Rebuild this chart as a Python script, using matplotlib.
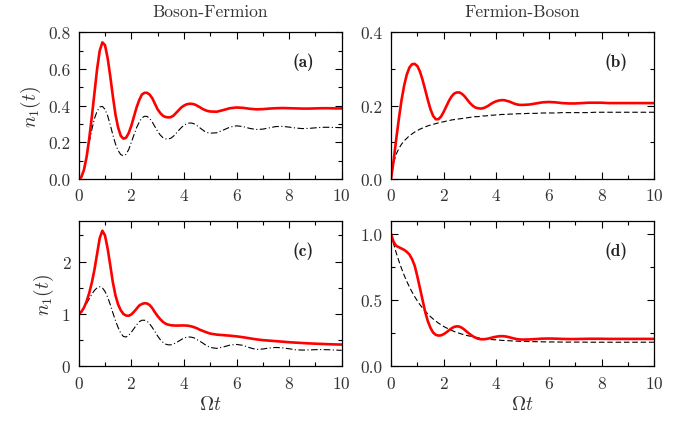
import numpy as np
import matplotlib
matplotlib.use("Agg")
import matplotlib.pyplot as plt
from matplotlib.ticker import MultipleLocator, FormatStrFormatter

plt.rcParams['font.family'] = ['cmr10', 'DejaVu Serif']
plt.rcParams['mathtext.fontset'] = 'cm'
plt.rcParams['axes.formatter.use_mathtext'] = True

# time grid (Omega t)
t = [0.0, 0.1, 0.2, 0.3, 0.4, 0.5, 0.6, 0.7, 0.8, 0.9,
     1.0, 1.1, 1.2, 1.3, 1.4, 1.5, 1.6, 1.7, 1.8, 1.9,
     2.0, 2.1, 2.2, 2.3, 2.4, 2.5, 2.6, 2.7, 2.8, 2.9,
     3.0, 3.1, 3.2, 3.3, 3.4, 3.5, 3.6, 3.7, 3.8, 3.9,
     4.0, 4.1, 4.2, 4.3, 4.4, 4.5, 4.6, 4.7, 4.8, 4.9,
     5.0, 5.25, 5.5, 5.75, 6.0, 6.25, 6.5, 6.75, 7.0, 7.25,
     7.5, 7.75, 8.0, 8.25, 8.5, 8.75, 9.0, 9.25, 9.5, 9.75, 10.0]

# (a) Boson-Fermion
a_red = [0.0, 0.01, 0.05, 0.12, 0.22, 0.34, 0.47, 0.60, 0.70, 0.745,
         0.73, 0.66, 0.56, 0.45, 0.35, 0.28, 0.235, 0.22, 0.225, 0.25,
         0.29, 0.34, 0.39, 0.43, 0.46, 0.47, 0.47, 0.46, 0.44, 0.41,
         0.38, 0.36, 0.345, 0.338, 0.336, 0.337, 0.345, 0.36, 0.375, 0.39,
         0.40, 0.407, 0.41, 0.41, 0.407, 0.40, 0.392, 0.383, 0.376, 0.371,
         0.368, 0.367, 0.376, 0.386, 0.39, 0.388, 0.383, 0.38, 0.381, 0.384,
         0.386, 0.387, 0.386, 0.385, 0.384, 0.384, 0.385, 0.386, 0.386, 0.385, 0.385]
a_black = [0.0, 0.01, 0.05, 0.12, 0.20, 0.27, 0.33, 0.37, 0.393, 0.396,
           0.38, 0.345, 0.295, 0.24, 0.19, 0.155, 0.133, 0.127, 0.135, 0.16,
           0.20, 0.24, 0.28, 0.31, 0.333, 0.342, 0.341, 0.33, 0.31, 0.285,
           0.26, 0.24, 0.226, 0.219, 0.218, 0.222, 0.233, 0.248, 0.265, 0.28,
           0.293, 0.301, 0.305, 0.305, 0.30, 0.291, 0.28, 0.269, 0.259, 0.253,
           0.25, 0.252, 0.267, 0.283, 0.29, 0.286, 0.276, 0.27, 0.272, 0.279,
           0.286, 0.287, 0.283, 0.278, 0.275, 0.276, 0.279, 0.282, 0.282, 0.281, 0.28]

# (b) Fermion-Boson
b_red = [0.0, 0.05, 0.11, 0.165, 0.215, 0.255, 0.285, 0.304, 0.313, 0.314,
         0.308, 0.293, 0.27, 0.243, 0.215, 0.19, 0.172, 0.163, 0.163, 0.17,
         0.183, 0.198, 0.213, 0.225, 0.233, 0.236, 0.236, 0.232, 0.225, 0.216,
         0.207, 0.20, 0.195, 0.193, 0.192, 0.193, 0.196, 0.20, 0.205, 0.209,
         0.212, 0.214, 0.215, 0.215, 0.213, 0.211, 0.208, 0.205, 0.203, 0.202,
         0.202, 0.203, 0.206, 0.209, 0.21, 0.209, 0.207, 0.206, 0.206, 0.207,
         0.208, 0.208, 0.208, 0.207, 0.207, 0.207, 0.207, 0.207, 0.207, 0.207, 0.207]
b_black = [0.0, 0.045, 0.068, 0.083, 0.095, 0.104, 0.111, 0.118, 0.123, 0.128,
           0.132, 0.136, 0.139, 0.142, 0.145, 0.147, 0.149, 0.151, 0.153, 0.155,
           0.156, 0.158, 0.159, 0.161, 0.162, 0.163, 0.164, 0.165, 0.166, 0.167,
           0.168, 0.169, 0.17, 0.17, 0.171, 0.172, 0.172, 0.173, 0.174, 0.174,
           0.175, 0.175, 0.176, 0.176, 0.176, 0.177, 0.177, 0.177, 0.178, 0.178,
           0.178, 0.179, 0.179, 0.18, 0.18, 0.18, 0.181, 0.181, 0.181, 0.181,
           0.181, 0.182, 0.182, 0.182, 0.182, 0.182, 0.182, 0.182, 0.182, 0.182, 0.182]

# (c) Boson-Fermion
c_red = [1.0, 1.04, 1.12, 1.24, 1.40, 1.60, 1.85, 2.15, 2.45, 2.59,
         2.50, 2.25, 1.93, 1.60, 1.35, 1.18, 1.07, 1.00, 0.97, 0.965,
         0.99, 1.04, 1.10, 1.16, 1.19, 1.205, 1.20, 1.17, 1.11, 1.03,
         0.96, 0.90, 0.85, 0.815, 0.795, 0.785, 0.78, 0.778, 0.778, 0.78,
         0.78, 0.778, 0.772, 0.76, 0.745, 0.725, 0.70, 0.68, 0.66, 0.642,
         0.625, 0.605, 0.595, 0.585, 0.572, 0.555, 0.535, 0.515, 0.50, 0.49,
         0.48, 0.47, 0.46, 0.452, 0.445, 0.438, 0.432, 0.427, 0.422, 0.418, 0.415]
c_black = [1.0, 1.05, 1.12, 1.20, 1.29, 1.38, 1.45, 1.50, 1.52, 1.50,
           1.43, 1.32, 1.18, 1.02, 0.87, 0.74, 0.63, 0.57, 0.56, 0.59,
           0.65, 0.72, 0.79, 0.85, 0.88, 0.88, 0.86, 0.81, 0.74, 0.66,
           0.58, 0.51, 0.46, 0.425, 0.41, 0.41, 0.425, 0.45, 0.48, 0.51,
           0.54, 0.555, 0.56, 0.555, 0.54, 0.51, 0.48, 0.45, 0.415, 0.385,
           0.36, 0.342, 0.37, 0.405, 0.418, 0.40, 0.355, 0.322, 0.33, 0.35,
           0.36, 0.352, 0.335, 0.315, 0.31, 0.312, 0.318, 0.32, 0.316, 0.31, 0.305]

# (d) Fermion-Boson
d_red = [1.0, 0.94, 0.91, 0.90, 0.89, 0.88, 0.865, 0.845, 0.81, 0.76,
         0.68, 0.59, 0.50, 0.41, 0.34, 0.29, 0.255, 0.238, 0.232, 0.234,
         0.243, 0.256, 0.272, 0.287, 0.298, 0.302, 0.30, 0.29, 0.275, 0.258,
         0.242, 0.228, 0.217, 0.209, 0.205, 0.204, 0.206, 0.21, 0.215, 0.22,
         0.224, 0.227, 0.228, 0.227, 0.224, 0.219, 0.214, 0.209, 0.205, 0.203,
         0.202, 0.203, 0.206, 0.209, 0.21, 0.209, 0.207, 0.206, 0.206, 0.207,
         0.208, 0.208, 0.208, 0.207, 0.207, 0.207, 0.207, 0.207, 0.207, 0.207, 0.207]
d_black = [1.0, 0.925, 0.857, 0.795, 0.739, 0.688, 0.642, 0.599, 0.561, 0.526,
           0.495, 0.466, 0.44, 0.417, 0.395, 0.375, 0.358, 0.342, 0.327, 0.314,
           0.301, 0.291, 0.281, 0.272, 0.263, 0.256, 0.249, 0.243, 0.237, 0.232,
           0.228, 0.224, 0.22, 0.216, 0.213, 0.21, 0.208, 0.205, 0.203, 0.201,
           0.20, 0.198, 0.196, 0.195, 0.194, 0.193, 0.192, 0.191, 0.19, 0.189,
           0.189, 0.187, 0.186, 0.185, 0.184, 0.184, 0.183, 0.183, 0.183, 0.183,
           0.182, 0.182, 0.182, 0.182, 0.182, 0.182, 0.182, 0.182, 0.182, 0.182, 0.182]

titles = ["Boson-Fermion", "Fermion-Boson"]
panel_labels = ["(a)", "(b)", "(c)", "(d)"]

W, H = 690, 427
fig = plt.figure(figsize=(W / 100, H / 100), dpi=100)

def px_axes(l, top, r, bot):
    return fig.add_axes([l / W, (H - bot) / H, (r - l) / W, (bot - top) / H])

axa = px_axes(78.7, 33.3, 341.7, 180.0)
axb = px_axes(391.0, 33.3, 654.3, 180.0)
axc = px_axes(78.7, 222.3, 341.7, 367.3)
axd = px_axes(391.0, 222.3, 654.3, 367.3)

TXT = '#333333'
RED = '#ff0000'
specs = [
    (axa, a_red, a_black, (6, 2.2, 1, 2.2), (0, 0.8), 0.2, 0.1, '%.1f'),
    (axb, b_red, b_black, (5, 2.5), (0, 0.4), 0.2, 0.1, '%.1f'),
    (axc, c_red, c_black, (6, 2.2, 1, 2.2), (0, 2.77), 1, 0.5, '%d'),
    (axd, d_red, d_black, (5, 2.5), (0, 1.096), 0.5, 0.25, '%.1f'),
]
for i, (ax, red, blk, dash, ylim, maj, mnr, fmt) in enumerate(specs):
    ax.plot(t, blk, color='black', lw=0.8, dashes=dash)
    ax.plot(t, red, color=RED, lw=1.9)
    ax.set_xlim(0, 10)
    ax.set_ylim(*ylim)
    ax.xaxis.set_major_locator(MultipleLocator(2))
    ax.xaxis.set_minor_locator(MultipleLocator(1))
    ax.yaxis.set_major_locator(MultipleLocator(maj))
    ax.yaxis.set_minor_locator(MultipleLocator(mnr))
    ax.yaxis.set_major_formatter(FormatStrFormatter(fmt))
    ax.tick_params(which='both', direction='in', top=True, right=True,
                   labelsize=12.5, labelcolor=TXT, width=0.8)
    ax.tick_params(which='major', length=5, pad=6)
    ax.tick_params(which='minor', length=3)
    for s in ax.spines.values():
        s.set_linewidth(0.9)
    ax.text(0.855, 0.80, panel_labels[i], transform=ax.transAxes,
            ha='center', va='center', fontsize=12.5, family='cmb10', color='#222222')

for ax in (axa, axc):
    ax.set_ylabel(r'$n_1(t)$', fontsize=14, color=TXT, labelpad=4)
for ax in (axc, axd):
    ax.set_xlabel(r'$\Omega t$', fontsize=14, color=TXT, labelpad=3)

axa.set_title(titles[0], fontsize=12.5, color=TXT, pad=12)
axb.set_title(titles[1], fontsize=12.5, color=TXT, pad=12)

fig.savefig('out.png', dpi=100)
